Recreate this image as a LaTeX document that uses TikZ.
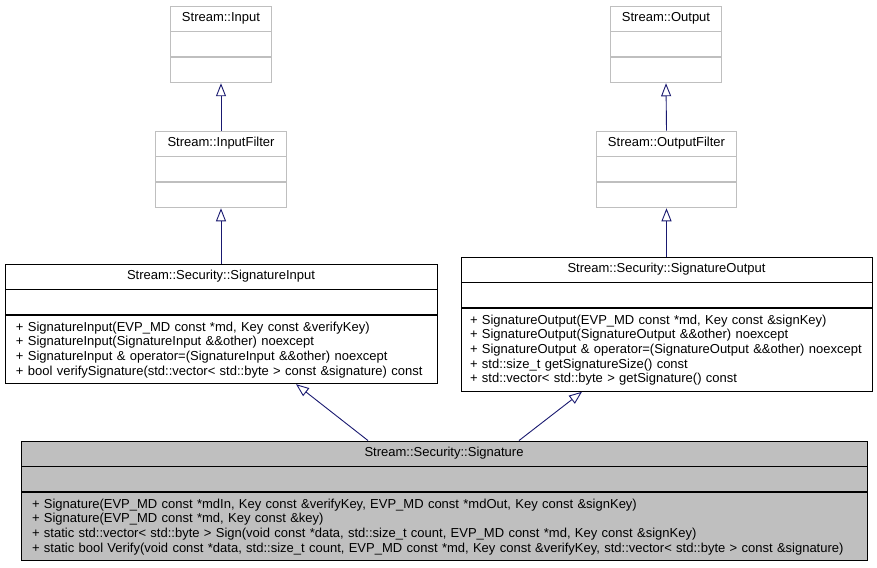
\documentclass[tikz,border=0pt]{standalone}
\usepackage{fontspec}
\setmainfont{Liberation Sans}
\usetikzlibrary{positioning,arrows.meta}
\definecolor{edgeblue}{HTML}{191970}
\definecolor{boxgray}{HTML}{BFBFBF}

\begin{document}
\begin{tikzpicture}[x=1pt, y=-1pt,
    font=\fontsize{13}{14.6}\selectfont,
    part/.style={rectangle, draw, line width=0.9pt, inner sep=0pt, minimum height=25pt},
    grey/.style={part, draw=boxgray},
    current/.style={part, draw=black, fill=boxgray},
    members/.style={part, align=left, inner xsep=11pt, inner ysep=6pt, minimum height=0pt},
    inherit/.style={draw=edgeblue, line width=0.9pt, -{Triangle[open, length=13pt, width=10pt, fill=white]}}]
    \useasboundingbox (0,0) rectangle (877,567);

    % input side
    \node (in) [grey, minimum width=101pt] at (221, 18.5) {Stream::Input};
    \node (in-a) [grey, minimum width=101pt, below=0pt of in] {};
    \node (in-m) [grey, minimum width=101pt, below=0pt of in-a] {};

    \node (infilter) [grey, minimum width=131pt] at (221, 143.5) {Stream::InputFilter};
    \node (infilter-a) [grey, minimum width=131pt, below=0pt of infilter] {};
    \node (infilter-m) [grey, minimum width=131pt, below=0pt of infilter-a] {};

    \node (sigin) [part, minimum width=432pt] at (221, 276.5) {Stream::Security::SignatureInput};
    \node (sigin-a) [part, minimum width=432pt, below=0pt of sigin] {};
    \node (sigin-m) [members, text width=410pt, below=0pt of sigin-a] {%
        + SignatureInput(EVP\_MD const *md, Key const \&verifyKey)\\
        + SignatureInput(SignatureInput \&\&other) noexcept\\
        + SignatureInput \& operator=(SignatureInput \&\&other) noexcept\\
        + bool verifySignature(std::vector< std::byte > const \&signature) const};

    % output side
    \node (out) [grey, minimum width=111pt] at (666, 18.5) {Stream::Output};
    \node (out-a) [grey, minimum width=111pt, below=0pt of out] {};
    \node (out-m) [grey, minimum width=111pt, below=0pt of out-a] {};

    \node (outfilter) [grey, minimum width=140pt] at (666.5, 143.5) {Stream::OutputFilter};
    \node (outfilter-a) [grey, minimum width=140pt, below=0pt of outfilter] {};
    \node (outfilter-m) [grey, minimum width=140pt, below=0pt of outfilter-a] {};

    \node (sigout) [part, minimum width=411pt] at (666.5, 269.5) {Stream::Security::SignatureOutput};
    \node (sigout-a) [part, minimum width=411pt, below=0pt of sigout] {};
    \node (sigout-m) [members, inner xsep=9pt, text width=393pt, below=0pt of sigout-a] {%
        + SignatureOutput(EVP\_MD const *md, Key const \&signKey)\\
        + SignatureOutput(SignatureOutput \&\&other) noexcept\\
        + SignatureOutput \& operator=(SignatureOutput \&\&other) noexcept\\
        + std::size\_t getSignatureSize() const\\
        + std::vector< std::byte > getSignature() const};

    % the class itself
    \node (sig) [current, minimum width=846pt] at (444, 453.5) {Stream::Security::Signature};
    \node (sig-a) [current, minimum width=846pt, below=0pt of sig] {};
    \node (sig-m) [current, members, text width=824pt, below=0pt of sig-a] {%
        + Signature(EVP\_MD const *mdIn, Key const \&verifyKey, EVP\_MD const *mdOut, Key const \&signKey)\\
        + Signature(EVP\_MD const *md, Key const \&key)\\
        + static std::vector< std::byte > Sign(void const *data, std::size\_t count, EVP\_MD const *md, Key const \&signKey)\\
        + static bool Verify(void const *data, std::size\_t count, EVP\_MD const *md, Key const \&verifyKey, std::vector< std::byte > const \&signature)};

    % inheritance
    \draw [inherit] (infilter.north) -- (in-m.south);
    \draw [inherit] (sigin.north) -- (infilter-m.south);
    \draw [inherit] (outfilter.north) -- (out-m.south);
    \draw [inherit] (sigout.north) -- (outfilter-m.south);
    \draw [inherit] ([xshift=-76pt]sig.north) -- ([xshift=75pt]sigin-m.south);
    \draw [inherit] ([xshift=75pt]sig.north) -- ([xshift=-84.5pt]sigout-m.south);
\end{tikzpicture}
\end{document}
